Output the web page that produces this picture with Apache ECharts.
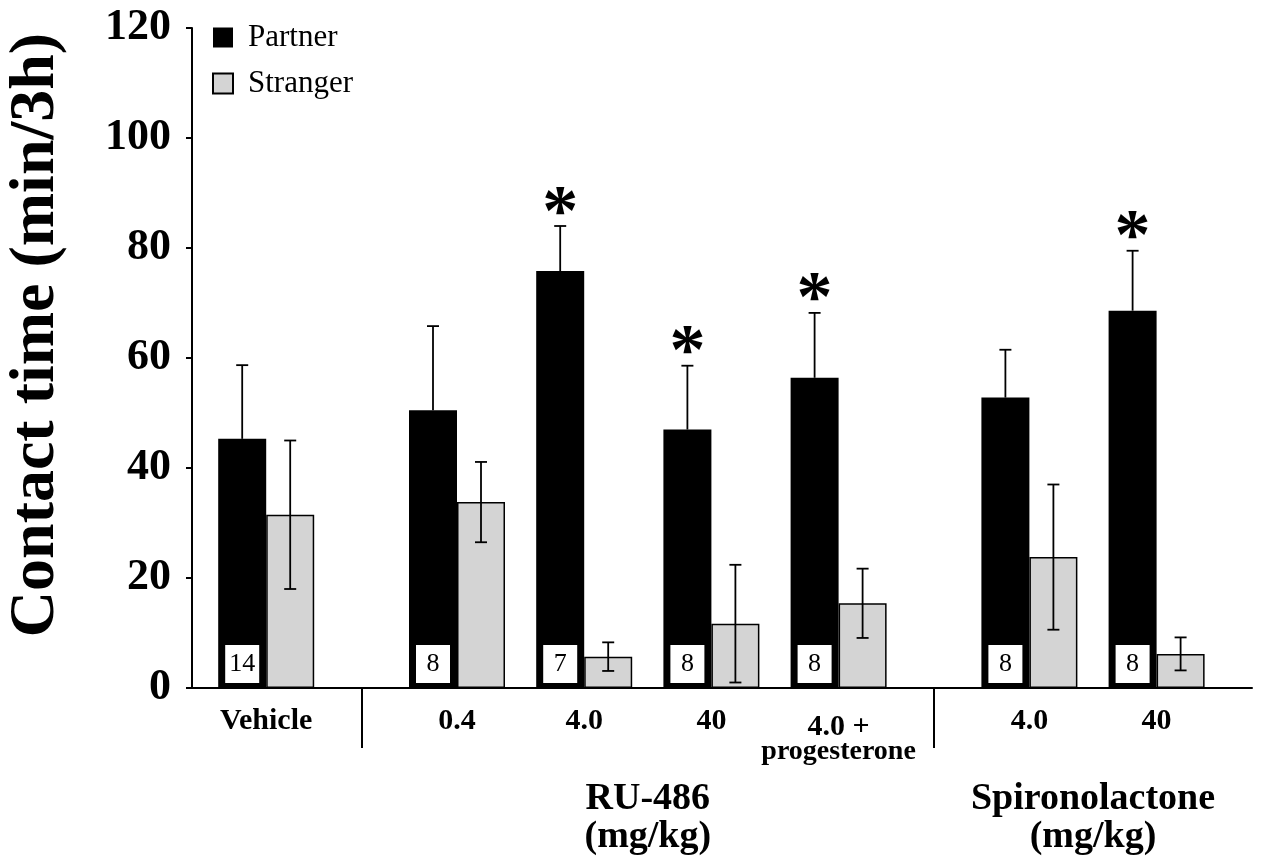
<!DOCTYPE html>
<html><head><meta charset="utf-8">
<script src="https://cdn.jsdelivr.net/npm/echarts@6/dist/echarts.min.js"></script>
<style>html,body{margin:0;padding:0;background:#fff}#chart{width:1262px;height:859px}</style>
</head><body><div id="chart"></div>
<script>
// ---- data ----
const categories = ['Vehicle', '0.4', '4.0', '40', '4.0 +\nprogesterone', '4.0', '40'];
const drugGroups = ['RU-486\n(mg/kg)', 'Spironolactone\n(mg/kg)'];
const partner = [45.3, 50.5, 75.8, 47.0, 56.4, 52.8, 68.6];
const partnerErr = [13.4, 15.3, 8.2, 11.6, 11.8, 8.7, 10.9];
const stranger = [31.5, 33.8, 5.7, 11.7, 15.4, 23.8, 6.2];
const strangerErr = [13.5, 7.3, 2.6, 10.7, 6.3, 13.2, 3.0];
const nAnimals = [14, 8, 7, 8, 8, 8, 8];
const significant = [false, false, true, true, true, false, true];
const yTicks = [0, 20, 40, 60, 80, 100, 120];

// ---- layout (category slots along x) ----
const SLOTS = 50;
const slotOf = [3, 12, 18, 24, 30, 39, 45];
const separatorSlots = [8, 35];
const drugGroupSlots = [21.5, 42.5];
const BAR_W = 48;
const FONT = '"Liberation Serif", "Times New Roman", serif';

const axisData = [];
for (let i = 0; i < SLOTS; i++) axisData.push('s' + i);
const partnerData = new Array(SLOTS).fill(null);
const strangerData = new Array(SLOTS).fill(null);
const partnerErrData = [], strangerErrData = [];
slotOf.forEach((s, g) => {
  partnerData[s] = partner[g];
  strangerData[s] = stranger[g];
  partnerErrData.push([s, partner[g], partnerErr[g], significant[g] ? 1 : 0]);
  strangerErrData.push([s, stranger[g], strangerErr[g], 0]);
});

function errRenderer(isPartner) {
  return function (params, api) {
    const s = api.value(0), v = api.value(1), e = api.value(2), sig = api.value(3);
    const base = api.coord([s, v]);
    const x = base[0] + (isPartner ? -BAR_W / 2 : BAR_W / 2);
    const yTop = api.coord([s, v + e])[1];
    const yBot = isPartner ? base[1] : api.coord([s, v - e])[1];
    const cap = 6;
    const ls = { stroke: '#000', lineWidth: 1.8 };
    const children = [
      { type: 'line', shape: { x1: x, y1: yBot, x2: x, y2: yTop }, style: ls },
      { type: 'line', shape: { x1: x - cap, y1: yTop, x2: x + cap, y2: yTop }, style: ls }
    ];
    if (!isPartner) children.push({ type: 'line', shape: { x1: x - cap, y1: yBot, x2: x + cap, y2: yBot }, style: ls });
    if (sig) children.push({ type: 'text', style: { text: '*', x: x, y: yTop - 11, align: 'center', verticalAlign: 'middle', fill: '#000', fontSize: 72, fontWeight: 'bold', fontFamily: FONT } });
    return { type: 'group', children };
  };
}

const chart = echarts.init(document.getElementById('chart'), null, { renderer: 'canvas' });
chart.setOption({
  animation: false,
  backgroundColor: '#fff',
  textStyle: { fontFamily: FONT, color: '#000' },
  grid: { left: 192, right: 10, top: 28, bottom: 171, containLabel: false, outerBoundsMode: 'none' },
  legend: {
    data: ['Partner', 'Stranger'], orient: 'vertical', left: 212, top: 22, padding: 0,
    itemWidth: 20, itemHeight: 20, itemGap: 15, icon: 'rect',
    textStyle: { fontSize: 31, fontFamily: FONT, color: '#000', padding: [0, 0, 0, 10] }
  },
  xAxis: [{
    type: 'category', data: axisData, boundaryGap: true,
    axisLine: { show: true, lineStyle: { color: '#000', width: 2 } },
    axisTick: { show: false },
    axisLabel: {
      interval: (i) => slotOf.indexOf(i) >= 0,
      margin: 17, color: '#000',
      formatter: (v, i) => {
        const g = slotOf.indexOf(i);
        if (g < 0) return '';
        const parts = categories[g].split('\n');
        return parts.length > 1 ? '{c|' + parts[0] + '}\n{b|' + parts[1] + '}' : '{a|' + parts[0] + '}';
      },
      rich: {
        a: { fontSize: 30, fontWeight: 'bold', fontFamily: FONT, lineHeight: 32, color: '#000' },
        c: { fontSize: 30, fontWeight: 'bold', fontFamily: FONT, lineHeight: 44, color: '#000' },
        b: { fontSize: 28, fontWeight: 'bold', fontFamily: FONT, lineHeight: 6, color: '#000' }
      }
    },
    splitLine: { show: false }
  }, {
    type: 'value', min: 0, max: SLOTS, position: 'bottom',
    axisLine: { show: false },
    axisTick: { show: true, customValues: separatorSlots, length: 60, lineStyle: { color: '#000', width: 2 } },
    axisLabel: {
      show: true, customValues: drugGroupSlots, margin: 92, color: '#000',
      fontSize: 38, fontWeight: 'bold', fontFamily: FONT, lineHeight: 38,
      formatter: (v) => { const k = drugGroupSlots.indexOf(v); return k >= 0 ? drugGroups[k] : ''; }
    },
    splitLine: { show: false }
  }],
  yAxis: {
    type: 'value', min: yTicks[0], max: yTicks[yTicks.length - 1], interval: yTicks[1] - yTicks[0],
    name: 'Contact time (min/3h)', nameLocation: 'middle', nameGap: 124, nameRotate: 90,
    nameTextStyle: { fontSize: 64, fontWeight: 'bold', fontFamily: FONT, color: '#000', padding: [0, 0, 0, 46] },
    axisLine: { show: true, lineStyle: { color: '#000', width: 2 } },
    axisTick: { show: true, length: 6, lineStyle: { color: '#000', width: 2 } },
    axisLabel: { fontSize: 44, fontWeight: 'bold', fontFamily: FONT, color: '#000', margin: 21 },
    splitLine: { show: false }
  },
  series: [{
    name: 'Partner', type: 'bar', data: partnerData, barWidth: BAR_W, barGap: '0%',
    itemStyle: { color: '#000' },
    label: {
      show: true, position: 'insideBottom', distance: 5,
      formatter: (p) => String(nAnimals[slotOf.indexOf(p.dataIndex)]),
      backgroundColor: '#fff', color: '#000', fontSize: 26, fontFamily: FONT,
      width: 34, height: 38, lineHeight: 38
    }
  }, {
    name: 'Stranger', type: 'bar', data: strangerData, barWidth: BAR_W, barGap: '0%',
    itemStyle: { color: '#d4d4d4', borderColor: '#000', borderWidth: 1.5 }
  }, {
    type: 'custom', name: 'partnerErr', data: partnerErrData, renderItem: errRenderer(true), z: 5
  }, {
    type: 'custom', name: 'strangerErr', data: strangerErrData, renderItem: errRenderer(false), z: 5
  }]
});
</script></body></html>
